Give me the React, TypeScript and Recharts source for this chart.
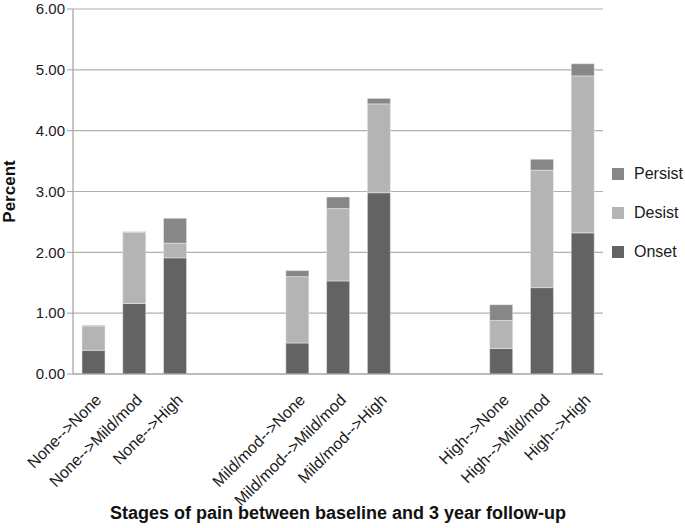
import React from "react";
import { BarChart, Bar, XAxis, YAxis, CartesianGrid, Legend } from "recharts";

const categories = [
  "None-->None", "None-->Mild/mod", "None-->High", " ", "  ",
  "Mild/mod-->None", "Mild/mod-->Mild/mod", "Mild/mod-->High", "   ", "    ",
  "High-->None", "High-->Mild/mod", "High-->High",
];
const onset = [0.39, 1.16, 1.91, null, null, 0.51, 1.53, 2.98, null, null, 0.42, 1.42, 2.32];
const desist = [0.40, 1.17, 0.24, null, null, 1.09, 1.19, 1.46, null, null, 0.46, 1.93, 2.58];
const persist = [0.01, 0.01, 0.41, null, null, 0.10, 0.19, 0.09, null, null, 0.26, 0.18, 0.20];
const yTicks = [0, 1, 2, 3, 4, 5, 6];

const data = categories.map((c, i) => ({
  name: c,
  Onset: onset[i],
  Desist: desist[i],
  Persist: persist[i],
}));

const COLORS = { Onset: "#636363", Desist: "#b4b4b4", Persist: "#878787" };
const FONT = "'Liberation Sans', Arial, sans-serif";

const XTick = (props: any) => {
  const { x, y, payload } = props;
  const tx = x + 1;
  const ty = y + 11;
  return (
    <text
      x={tx}
      y={ty}
      textAnchor="end"
      dominantBaseline="hanging"
      transform={`rotate(-45 ${tx} ${ty})`}
      fontSize={16}
      fontFamily={FONT}
      fill="#1a1a1a"
    >
      {payload.value}
    </text>
  );
};

const LegendContent = () => {
  const items = ["Persist", "Desist", "Onset"];
  return (
    <div style={{ fontFamily: FONT, fontSize: 16, color: "#1a1a1a" }}>
      {items.map((k) => (
        <div key={k} style={{ display: "flex", alignItems: "center", height: 39 }}>
          <span
            style={{
              display: "inline-block",
              width: 12,
              height: 12,
              background: (COLORS as any)[k],
              marginRight: 10,
            }}
          />
          <span>{k}</span>
        </div>
      ))}
    </div>
  );
};

export default function App() {
  return (
    <div style={{ position: "absolute", left: 0, top: 0, width: 685, height: 528, background: "#fff" }}>
      <BarChart
        width={685}
        height={528}
        data={data}
        margin={{ top: 9, right: 5, left: 0, bottom: 0 }}
        barSize={23}
      >
        <CartesianGrid vertical={false} stroke="#b0b0b0" strokeWidth={1.2} />
        <XAxis
          dataKey="name"
          interval={0}
          height={154}
          tick={<XTick />}
          tickLine={false}
          axisLine={{ stroke: "#a0a0a0", strokeWidth: 1.2 }}
          label={{
            content: (p: any) => {
              const vb = p.viewBox;
              return (
                <text
                  x={vb.x + vb.width / 2}
                  y={vb.y + vb.height - 9}
                  textAnchor="middle"
                  fontSize={18}
                  fontWeight="bold"
                  fontFamily={FONT}
                  fill="#111"
                >
                  Stages of pain between baseline and 3 year follow-up
                </text>
              );
            },
          }}
        />
        <YAxis
          width={73}
          domain={[0, 6]}
          ticks={yTicks}
          interval={0}
          tickFormatter={(v: number) => v.toFixed(2)}
          tick={{ fontSize: 15, fontFamily: FONT, fill: "#1a1a1a" }}
          tickLine={{ stroke: "#a0a0a0" }}
          tickSize={6}
          axisLine={{ stroke: "#a0a0a0", strokeWidth: 1.2 }}
          label={{
            content: (p: any) => {
              const vb = p.viewBox;
              const cx = 15;
              const cy = vb.y + vb.height / 2;
              return (
                <text
                  x={cx}
                  y={cy}
                  textAnchor="middle"
                  transform={`rotate(-90 ${cx} ${cy})`}
                  fontSize={17}
                  fontWeight="bold"
                  fontFamily={FONT}
                  fill="#111"
                >
                  Percent
                </text>
              );
            },
          }}
        />
        <Legend
          layout="vertical"
          align="right"
          verticalAlign="top"
          content={<LegendContent />}
          wrapperStyle={{ left: 612, top: 154, width: 77 }}
        />
        <Bar dataKey="Onset" stackId="a" fill={COLORS.Onset} stroke="#eeeeee" strokeWidth={0.5} isAnimationActive={false} />
        <Bar dataKey="Desist" stackId="a" fill={COLORS.Desist} stroke="#eeeeee" strokeWidth={0.5} isAnimationActive={false} />
        <Bar dataKey="Persist" stackId="a" fill={COLORS.Persist} stroke="#eeeeee" strokeWidth={0.5} isAnimationActive={false} />
      </BarChart>
    </div>
  );
}
